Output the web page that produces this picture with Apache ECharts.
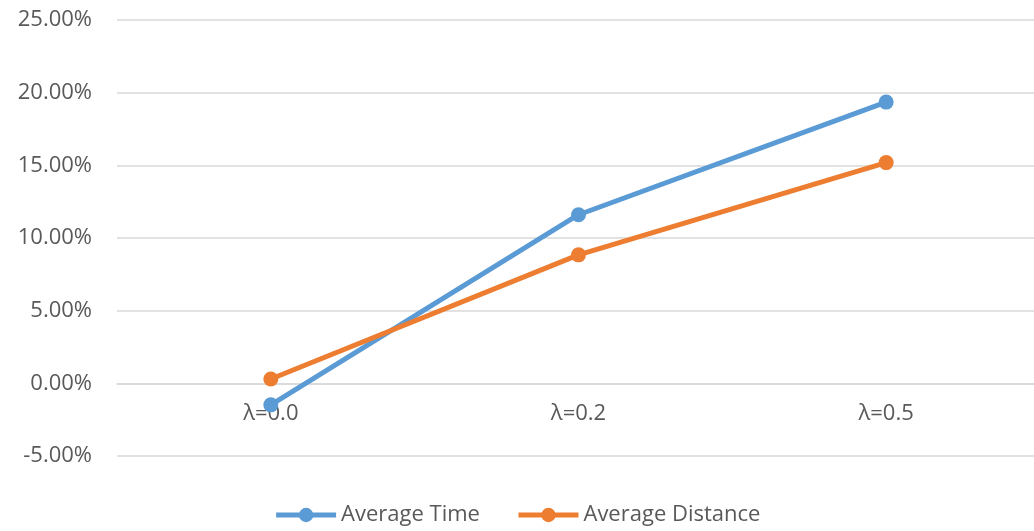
<!DOCTYPE html>
<html>
<head>
<meta charset="utf-8">
<script src="https://cdn.jsdelivr.net/npm/echarts@6/dist/echarts.min.js"></script>
<style>html,body{margin:0;padding:0;background:#fff;}#c{width:1034px;height:531px;}</style>
</head>
<body>
<div id="c"></div>
<script>
const categories = ['λ=0.0', 'λ=0.2', 'λ=0.5'];
const averageTime = [-1.48, 11.6, 19.35];
const averageDistance = [0.3, 8.84, 15.19];
const yTicks = { min: -5, max: 25, interval: 5 };

const chart = echarts.init(document.getElementById('c'));
const font = '"Open Sans", "Noto Sans", sans-serif';
const gridTop = 20, gridHeight = 436;
const zeroOffset = -gridHeight * (0 - yTicks.min) / (yTicks.max - yTicks.min);
chart.setOption({
  animation: false,
  textStyle: { fontFamily: font },
  grid: { left: 117, width: 923, top: gridTop, height: gridHeight, outerBoundsMode: 'none', containLabel: false },
  legend: {
    bottom: 0,
    left: 'center',
    itemWidth: 60,
    itemHeight: 18,
    itemGap: 36,
    lineStyle: { width: 5 },
    textStyle: { fontSize: 22, color: '#595959', fontFamily: font },
    data: ['Average Time', 'Average Distance']
  },
  xAxis: {
    type: 'category',
    data: categories,
    boundaryGap: true,
    offset: zeroOffset,
    axisLine: { onZero: false, lineStyle: { color: '#d9d9d9', width: 1.5 } },
    axisTick: { show: false },
    axisLabel: { color: '#595959', fontSize: 22, margin: 19, fontFamily: font }
  },
  yAxis: {
    type: 'value',
    min: yTicks.min,
    max: yTicks.max,
    interval: yTicks.interval,
    axisLine: { show: false },
    axisTick: { show: false },
    splitLine: { lineStyle: { color: '#d9d9d9', width: 1.5 } },
    axisLabel: {
      color: '#595959', fontSize: 22, margin: 25, fontFamily: font,
      formatter: v => v.toFixed(2) + '%'
    }
  },
  series: [
    {
      name: 'Average Time', type: 'line', data: averageTime,
      symbol: 'circle', symbolSize: 15,
      lineStyle: { color: '#5B9BD5', width: 5 },
      itemStyle: { color: '#5B9BD5' }
    },
    {
      name: 'Average Distance', type: 'line', data: averageDistance,
      symbol: 'circle', symbolSize: 15,
      lineStyle: { color: '#ED7D31', width: 5 },
      itemStyle: { color: '#ED7D31' }
    }
  ]
});
</script>
</body>
</html>
